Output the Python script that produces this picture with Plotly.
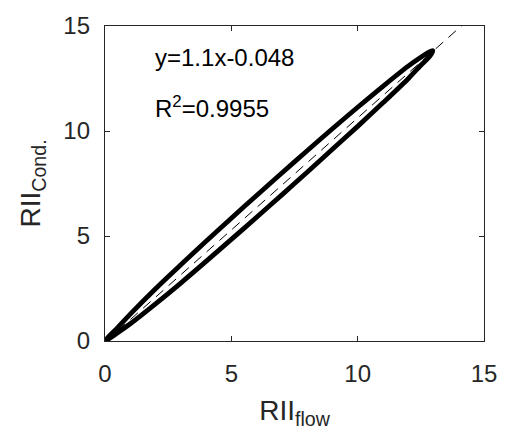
import plotly.graph_objects as go

# Hysteresis loop of conductivity-based vs flow-based RII (centre line of the traced path)
upper_x = [0.0, 0.5, 1.0, 2.0, 3.0, 4.0, 5.0, 6.0, 7.0, 8.0, 9.0, 10.0, 11.0, 12.0, 12.5, 12.8, 12.97]
upper_y = [0.0, 0.64, 1.28, 2.49, 3.63, 4.75, 5.85, 6.93, 8.00, 9.06, 10.11, 11.13, 12.13, 13.09, 13.51, 13.74, 13.83]
lower_x = [12.85, 12.5, 12.0, 11.0, 10.0, 9.0, 8.0, 7.0, 6.0, 5.0, 4.0, 3.0, 2.0, 1.0, 0.5, 0.0]
lower_y = [13.55, 13.13, 12.49, 11.34, 10.22, 9.13, 8.04, 6.96, 5.89, 4.84, 3.79, 2.76, 1.77, 0.82, 0.39, 0.0]

# Linear fit of the loop
fit_slope = 1.067
fit_intercept = -0.048
fit_r2 = 0.9955
fit_x = [0.0, 15.0]

axis_ticks = [0, 5, 10, 15]
axis_range = [0, 15]

FONT = "Liberation Sans, Arial, sans-serif"
INK = "#262626"

fig = go.Figure()

fig.add_trace(go.Scatter(
    x=upper_x + lower_x,
    y=upper_y + lower_y,
    mode="lines",
    line=dict(color="black", width=4.8, shape="spline", smoothing=0.8),
    showlegend=False,
))

fig.add_trace(go.Scatter(
    x=fit_x,
    y=[fit_slope * v + fit_intercept for v in fit_x],
    mode="lines",
    line=dict(color="black", width=1, dash="10px,7px"),
    showlegend=False,
))

axis_common = dict(
    range=axis_range,
    tickvals=axis_ticks,
    showline=True,
    mirror="ticks",
    ticks="inside",
    ticklen=5,
    tickwidth=1,
    tickcolor=INK,
    linecolor=INK,
    linewidth=1.3,
    showgrid=False,
    zeroline=False,
    tickfont=dict(family=FONT, size=24, color=INK),
)

fig.update_xaxes(
    **axis_common,
    title=dict(text="RII<sub>flow</sub>", font=dict(family=FONT, size=28, color=INK), standoff=14),
    ticklabelstandoff=11,
)
fig.update_yaxes(**axis_common, ticklabelstandoff=9)

# y-axis title placed as a rotated label left of the tick labels
fig.add_annotation(
    x=-0.19, y=0.5, xref="paper", yref="paper",
    text="RII<sub>Cond.</sub>", textangle=-90,
    showarrow=False, xanchor="center", yanchor="middle",
    font=dict(family=FONT, size=28, color=INK),
)

fig.add_annotation(
    x=1.9, y=13.5, xref="x", yref="y",
    text=f"y={fit_slope:.2g}x{fit_intercept:+.2g}",
    showarrow=False, xanchor="left", yanchor="middle",
    font=dict(family=FONT, size=24, color="black"),
)
fig.add_annotation(
    x=1.9, y=11.15, xref="x", yref="y",
    text=f"R<sup>2</sup>={fit_r2}",
    showarrow=False, xanchor="left", yanchor="middle",
    font=dict(family=FONT, size=24, color="black"),
)

fig.update_layout(
    width=509, height=441,
    margin=dict(l=105, r=15, t=18, b=100),
    paper_bgcolor="white",
    plot_bgcolor="white",
)

fig.write_html("out.html")
